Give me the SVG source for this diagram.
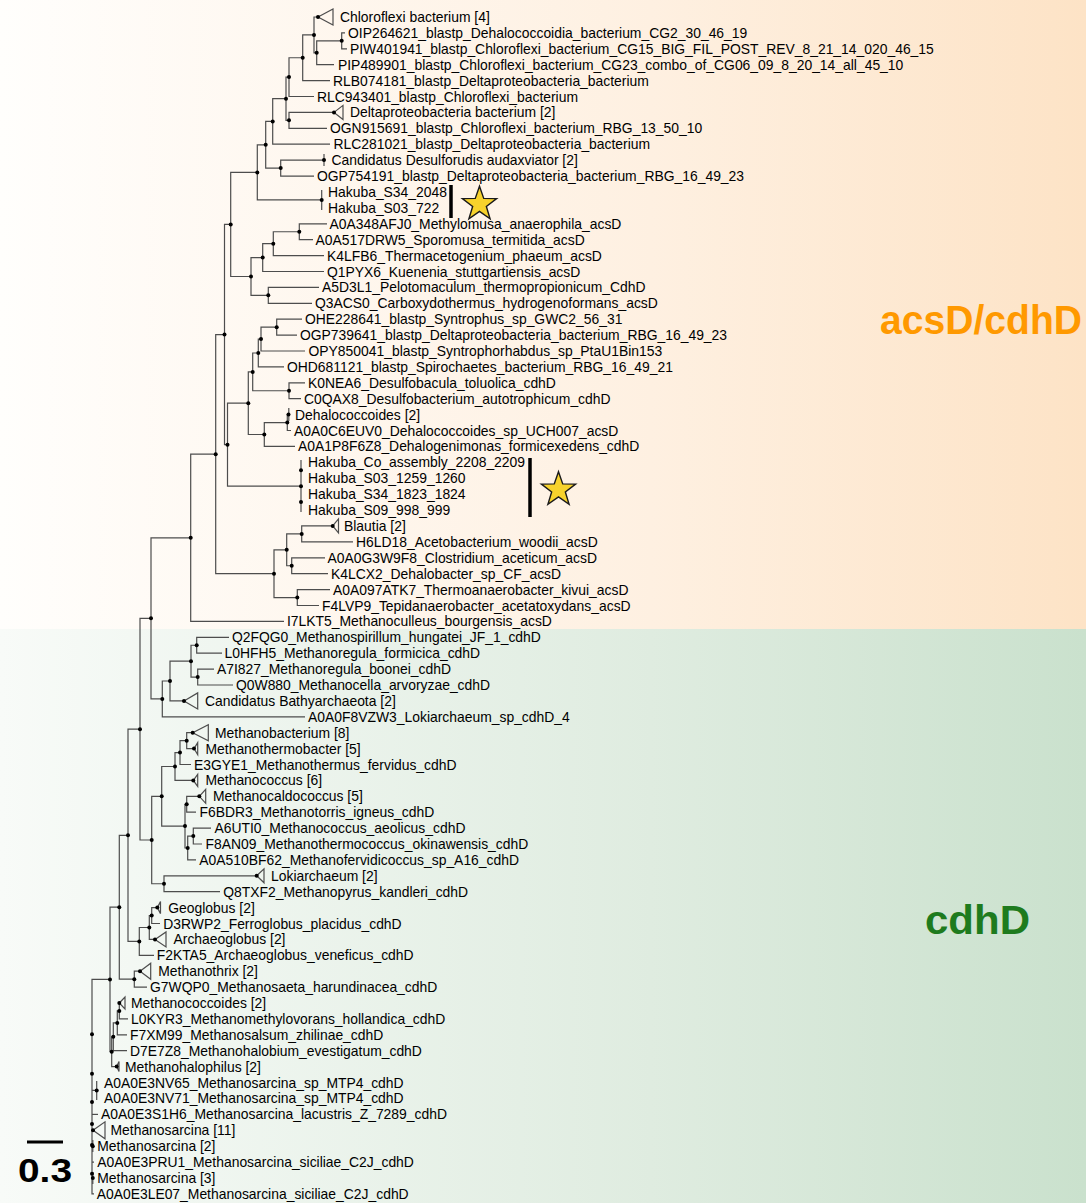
<svg xmlns="http://www.w3.org/2000/svg" width="1086" height="1203" viewBox="0 0 1086 1203">
<defs>
<linearGradient id="gTop" x1="0" y1="0" x2="1" y2="0">
<stop offset="0" stop-color="#FFFEFC"/>
<stop offset="0.6" stop-color="#FEF0E1"/>
<stop offset="1" stop-color="#FDE3C6"/>
</linearGradient>
<linearGradient id="gBot" x1="0" y1="0" x2="1" y2="0">
<stop offset="0" stop-color="#F8FBF8"/>
<stop offset="0.6" stop-color="#DFECE0"/>
<stop offset="1" stop-color="#CAE1CD"/>
</linearGradient>
<polygon id="star" points="0,-18 4.232,-5.825 17.119,-5.562 6.848,2.225 10.58,14.562 0,7.2 -10.58,14.562 -6.848,2.225 -17.119,-5.562 -4.232,-5.825"/>
<style>
.br{fill:none;stroke:#4d4d4d;stroke-width:1.2}
.tri{fill:none;stroke:#4d4d4d;stroke-width:1.2}
.dots circle{fill:#000}
text.l{font-family:"Liberation Sans",Arial,Helvetica,sans-serif;font-size:13.9px;fill:#000}
.star{fill:#F7D22C;stroke:#1a1a1a;stroke-width:1.4}
.bar{stroke:#000;stroke-width:3.5}
</style>
</defs>
<rect x="0" y="0" width="1086" height="629" fill="url(#gTop)"/>
<rect x="0" y="629" width="1086" height="574" fill="url(#gBot)"/>

<g id="connectors">
<path class="br" d="M345 32.9 H341.7 V48.8 H347"/>
<path class="br" d="M341.7 40.85 H316.7 V64.7 H334"/>
<path class="br" d="M318 17 H314 V52.8 H316.7"/>
<path class="br" d="M314 34.9 H302.7 V80.6 H330"/>
<path class="br" d="M302.7 57.75 H289 V96.5 H314"/>
<path class="br" d="M334 112.4 H289 V128.3 H327"/>
<path class="br" d="M289 77.1 H286 V120.35 H289"/>
<path class="br" d="M286 98.7 H272.7 V144.2 H330"/>
<path class="br" d="M324 160.1 H280.7 V176.1 H314"/>
<path class="br" d="M272.7 121.45 H265.7 V168.1 H280.7"/>
<path class="br" d="M321.7 190 V210"/>
<path class="br" d="M265.7 144.8 H257.3 V199.95 H321.7"/>
<path class="br" d="M327 223.8 H299.3 V239.7 H313"/>
<path class="br" d="M299.3 231.75 H273.3 V255.6 H324"/>
<path class="br" d="M273.3 243.7 H262.7 V271.5 H324"/>
<path class="br" d="M319 287.4 H268.3 V303.3 H312"/>
<path class="br" d="M262.7 257.6 H251 V295.35 H268.3"/>
<path class="br" d="M257.3 172.4 H230.7 V276.5 H251"/>
<path class="br" d="M302 319.2 H276.7 V335.1 H297"/>
<path class="br" d="M276.7 327.15 H261 V351 H305"/>
<path class="br" d="M261 339.1 H258.3 V366.9 H284"/>
<path class="br" d="M305 382.8 H289 V398.7 H301"/>
<path class="br" d="M258.3 353 H252.7 V390.75 H289"/>
<path class="br" d="M288.5 414.6 H287.3 V430.5 H291"/>
<path class="br" d="M287.3 422.55 H264.3 V446.4 H295"/>
<path class="br" d="M252.7 371.9 H248.3 V434.5 H264.3"/>
<path class="br" d="M301 460 V512"/>
<path class="br" d="M248.3 403.2 H227.5 V486.15 H301"/>
<path class="br" d="M230.7 224.45 H224.5 V444.7 H227.5"/>
<path class="br" d="M332.7 525.9 H301.7 V541.9 H353"/>
<path class="br" d="M325 557.8 H291.7 V573.7 H328"/>
<path class="br" d="M301.7 533.9 H286.7 V565.75 H291.7"/>
<path class="br" d="M330 589.6 H297.3 V605.5 H319"/>
<path class="br" d="M286.7 549.8 H274 V597.55 H297.3"/>
<path class="br" d="M224.5 334.6 H215.7 V573.7 H274"/>
<path class="br" d="M215.7 454.15 H190.7 V621.4 H284"/>
<path class="br" d="M229 637.3 H196.7 V653.2 H222"/>
<path class="br" d="M214 669.1 H197.7 V685 H233"/>
<path class="br" d="M196.7 645.25 H191 V677.05 H197.7"/>
<path class="br" d="M191 661.15 H170 V700.9 H184"/>
<path class="br" d="M170 681 H162.3 V716.8 H305"/>
<path class="br" d="M190.7 537.8 H151 V698.9 H162.3"/>
<path class="br" d="M192.7 732.7 H186.7 V748.6 H194"/>
<path class="br" d="M186.7 740.65 H180 V764.5 H191"/>
<path class="br" d="M180 752.6 H175 V780.4 H193.3"/>
<path class="br" d="M199.3 796.3 H186.7 V812.2 H196"/>
<path class="br" d="M211 828.1 H193.3 V844 H202"/>
<path class="br" d="M193.3 836.05 H187.7 V859.9 H196"/>
<path class="br" d="M186.7 804.25 H185 V847.98 H187.7"/>
<path class="br" d="M175 766.5 H161.7 V826.1 H185"/>
<path class="br" d="M256.7 875.8 H164 V891.7 H220"/>
<path class="br" d="M161.7 796.3 H151.7 V883.75 H164"/>
<path class="br" d="M151 618.35 H140 V840 H151.7"/>
<path class="br" d="M157.3 907.6 H151.7 V923.5 H160"/>
<path class="br" d="M151.7 915.55 H149.3 V939.4 H155"/>
<path class="br" d="M149.3 927.5 H139.3 V955.3 H154"/>
<path class="br" d="M140 729.2 H128 V941.4 H139.3"/>
<path class="br" d="M140 971.2 H134.3 V987.1 H147"/>
<path class="br" d="M128 835.3 H119.3 V979.15 H134.3"/>
<path class="br" d="M119.3 1003 V1018.9 H128"/>
<path class="br" d="M119.3 1010.95 H117.3 V1034.8 H127"/>
<path class="br" d="M117.3 1022.9 H113.3 V1050.7 H127"/>
<path class="br" d="M113.3 1036.8 H111.7 V1066.6 H116.7"/>
<path class="br" d="M119.3 907.2 H110 V1051.7 H111.7"/>
<path class="br" d="M110 979.45 H92 V1193.9 H94"/>
<path class="br" d="M92 1090.45 H96.7 M96.7 1081 V1100"/>
<path class="br" d="M92 1114.4 H98"/>
<path class="br" d="M92 1162.1 H94"/>
<path class="br" d="M92.8 1140 V1152"/>
<path class="br" d="M92.8 1172 V1184"/>
<path class="br" d="M324 154 V166"/>
<path class="br" d="M288.8 408 V421"/>
</g>

<g id="collapsed">
<polygon class="tri" points="318,17 333,9 333,25"/>
<polygon class="tri" points="334,112.4 343,105.4 343,119.4"/>
<polygon class="tri" points="332.7,525.9 338.5,518.9 338.5,532.9"/>
<polygon class="tri" points="184,700.9 197.7,692.9 197.7,708.9"/>
<polygon class="tri" points="192.7,732.7 208.3,724.7 208.3,740.7"/>
<polygon class="tri" points="194,748.6 197.7,742.6 197.7,754.6"/>
<polygon class="tri" points="193.3,780.4 197.7,774.4 197.7,786.4"/>
<polygon class="tri" points="199.3,796.3 205.7,789.3 205.7,803.3"/>
<polygon class="tri" points="256.7,875.8 264,868.8 264,882.8"/>
<polygon class="tri" points="157.3,907.6 160.5,901.6 160.5,913.6"/>
<polygon class="tri" points="155,939.4 166,931.9 166,946.9"/>
<polygon class="tri" points="140,971.2 150.7,963.2 150.7,979.2"/>
<polygon class="tri" points="119.3,1003 125,997 125,1009"/>
<polygon class="tri" points="116.7,1066.6 119,1061.6 119,1071.6"/>
<polygon class="tri" points="93,1130.3 105,1121.8 105,1138.8"/>
</g>

<g class="dots" id="node-dots">
<circle cx="341.7" cy="40.85" r="2"/><circle cx="316.7" cy="52.8" r="2"/><circle cx="314" cy="34.9" r="2"/>
<circle cx="302.7" cy="57.75" r="2"/><circle cx="289" cy="77.1" r="2"/><circle cx="289" cy="120.35" r="2"/>
<circle cx="286" cy="98.7" r="2"/><circle cx="272.7" cy="121.45" r="2"/><circle cx="280.7" cy="168.1" r="2"/>
<circle cx="265.7" cy="144.8" r="2"/><circle cx="321.7" cy="199.95" r="2"/><circle cx="257.3" cy="172.4" r="2"/>
<circle cx="299.3" cy="231.75" r="2"/><circle cx="273.3" cy="243.7" r="2"/><circle cx="262.7" cy="257.6" r="2"/>
<circle cx="268.3" cy="295.35" r="2"/><circle cx="251" cy="276.5" r="2"/><circle cx="230.7" cy="224.45" r="2"/>
<circle cx="276.7" cy="327.15" r="2"/><circle cx="261" cy="339.1" r="2"/><circle cx="258.3" cy="353" r="2"/>
<circle cx="289" cy="390.75" r="2"/><circle cx="252.7" cy="371.9" r="2"/><circle cx="287.3" cy="422.55" r="2"/>
<circle cx="264.3" cy="434.5" r="2"/><circle cx="248.3" cy="403.2" r="2"/><circle cx="301" cy="486.15" r="2"/>
<circle cx="301" cy="470.25" r="2"/><circle cx="301" cy="502.05" r="2"/><circle cx="227.5" cy="444.7" r="2"/>
<circle cx="224.5" cy="334.6" r="2"/><circle cx="301.7" cy="533.9" r="2"/><circle cx="291.7" cy="565.75" r="2"/>
<circle cx="286.7" cy="549.8" r="2"/><circle cx="297.3" cy="597.55" r="2"/><circle cx="274" cy="573.7" r="2"/>
<circle cx="215.7" cy="454.15" r="2"/><circle cx="190.7" cy="537.8" r="2"/><circle cx="196.7" cy="645.25" r="2"/>
<circle cx="197.7" cy="677.05" r="2"/><circle cx="191" cy="661.15" r="2"/><circle cx="170" cy="681" r="2"/>
<circle cx="162.3" cy="698.9" r="2"/><circle cx="151" cy="618.35" r="2"/><circle cx="186.7" cy="740.65" r="2"/>
<circle cx="180" cy="752.6" r="2"/><circle cx="175" cy="766.5" r="2"/><circle cx="186.7" cy="804.25" r="2"/>
<circle cx="193.3" cy="836.05" r="2"/><circle cx="187.7" cy="847.98" r="2"/><circle cx="185" cy="826.1" r="2"/>
<circle cx="161.7" cy="796.3" r="2"/><circle cx="164" cy="883.75" r="2"/><circle cx="151.7" cy="840" r="2"/>
<circle cx="140" cy="729.2" r="2"/><circle cx="151.7" cy="915.55" r="2"/><circle cx="149.3" cy="927.5" r="2"/>
<circle cx="139.3" cy="941.4" r="2"/><circle cx="128" cy="835.3" r="2"/><circle cx="134.3" cy="979.15" r="2"/>
<circle cx="119.3" cy="907.2" r="2"/><circle cx="119.3" cy="1010.95" r="2"/><circle cx="117.3" cy="1022.9" r="2"/>
<circle cx="113.3" cy="1036.8" r="2"/><circle cx="111.7" cy="1051.7" r="2"/><circle cx="110" cy="979.45" r="2"/>
<circle cx="96.7" cy="1090.45" r="2"/><circle cx="92" cy="1034.3" r="2"/><circle cx="92" cy="1073.8" r="2"/>
<circle cx="92" cy="1102" r="2"/><circle cx="92" cy="1124" r="2"/><circle cx="92" cy="1145" r="2"/>
<circle cx="92" cy="1173.8" r="2"/>
<circle cx="318" cy="17" r="2"/><circle cx="334" cy="112.4" r="2"/><circle cx="332.7" cy="525.9" r="2"/>
<circle cx="184" cy="700.9" r="2"/><circle cx="192.7" cy="732.7" r="2"/><circle cx="194" cy="748.6" r="2"/>
<circle cx="193.3" cy="780.4" r="2"/><circle cx="199.3" cy="796.3" r="2"/><circle cx="256.7" cy="875.8" r="2"/>
<circle cx="157.3" cy="907.6" r="2"/><circle cx="155" cy="939.4" r="2"/><circle cx="140" cy="971.2" r="2"/>
<circle cx="119.3" cy="1003" r="2"/><circle cx="116.7" cy="1066.6" r="2"/><circle cx="93" cy="1130.3" r="2"/>
<circle cx="324" cy="160.1" r="2"/><circle cx="288.5" cy="414.6" r="2"/><circle cx="92.8" cy="1146.2" r="2"/>
<circle cx="92.8" cy="1178" r="2"/>
</g>

<g id="leaf-01"><text class="l" x="340" y="22">Chloroflexi bacterium [4]</text></g>
<g id="leaf-02"><text class="l" x="348" y="37.9">OIP264621_blastp_Dehalococcoidia_bacterium_CG2_30_46_19</text></g>
<g id="leaf-03"><text class="l" x="350" y="53.8">PIW401941_blastp_Chloroflexi_bacterium_CG15_BIG_FIL_POST_REV_8_21_14_020_46_15</text></g>
<g id="leaf-04"><text class="l" x="338" y="69.7">PIP489901_blastp_Chloroflexi_bacterium_CG23_combo_of_CG06_09_8_20_14_all_45_10</text></g>
<g id="leaf-05"><text class="l" x="333" y="85.6">RLB074181_blastp_Deltaproteobacteria_bacterium</text></g>
<g id="leaf-06"><text class="l" x="317" y="101.5">RLC943401_blastp_Chloroflexi_bacterium</text></g>
<g id="leaf-07"><text class="l" x="350" y="117.4">Deltaproteobacteria bacterium [2]</text></g>
<g id="leaf-08"><text class="l" x="330" y="133.3">OGN915691_blastp_Chloroflexi_bacterium_RBG_13_50_10</text></g>
<g id="leaf-09"><text class="l" x="333.5" y="149.2">RLC281021_blastp_Deltaproteobacteria_bacterium</text></g>
<g id="leaf-10"><text class="l" x="331.5" y="165.1">Candidatus Desulforudis audaxviator [2]</text></g>
<g id="leaf-11"><text class="l" x="317" y="181.1">OGP754191_blastp_Deltaproteobacteria_bacterium_RBG_16_49_23</text></g>
<g id="leaf-12"><text class="l" x="328" y="197">Hakuba_S34_2048</text></g>
<g id="leaf-13"><text class="l" x="328" y="212.9">Hakuba_S03_722</text></g>
<g id="leaf-14"><text class="l" x="329.5" y="228.8">A0A348AFJ0_Methylomusa_anaerophila_acsD</text></g>
<g id="leaf-15"><text class="l" x="315.5" y="244.7">A0A517DRW5_Sporomusa_termitida_acsD</text></g>
<g id="leaf-16"><text class="l" x="327" y="260.6">K4LFB6_Thermacetogenium_phaeum_acsD</text></g>
<g id="leaf-17"><text class="l" x="327" y="276.5">Q1PYX6_Kuenenia_stuttgartiensis_acsD</text></g>
<g id="leaf-18"><text class="l" x="322" y="292.4">A5D3L1_Pelotomaculum_thermopropionicum_CdhD</text></g>
<g id="leaf-19"><text class="l" x="315" y="308.3">Q3ACS0_Carboxydothermus_hydrogenoformans_acsD</text></g>
<g id="leaf-20"><text class="l" x="305" y="324.2">OHE228641_blastp_Syntrophus_sp_GWC2_56_31</text></g>
<g id="leaf-21"><text class="l" x="300" y="340.1">OGP739641_blastp_Deltaproteobacteria_bacterium_RBG_16_49_23</text></g>
<g id="leaf-22"><text class="l" x="308.5" y="356">OPY850041_blastp_Syntrophorhabdus_sp_PtaU1Bin153</text></g>
<g id="leaf-23"><text class="l" x="287" y="371.9">OHD681121_blastp_Spirochaetes_bacterium_RBG_16_49_21</text></g>
<g id="leaf-24"><text class="l" x="308" y="387.8">K0NEA6_Desulfobacula_toluolica_cdhD</text></g>
<g id="leaf-25"><text class="l" x="304" y="403.7">C0QAX8_Desulfobacterium_autotrophicum_cdhD</text></g>
<g id="leaf-26"><text class="l" x="295" y="419.6">Dehalococcoides [2]</text></g>
<g id="leaf-27"><text class="l" x="294" y="435.5">A0A0C6EUV0_Dehalococcoides_sp_UCH007_acsD</text></g>
<g id="leaf-28"><text class="l" x="298" y="451.4">A0A1P8F6Z8_Dehalogenimonas_formicexedens_cdhD</text></g>
<g id="leaf-29"><text class="l" x="308" y="467.3">Hakuba_Co_assembly_2208_2209</text></g>
<g id="leaf-30"><text class="l" x="308" y="483.2">Hakuba_S03_1259_1260</text></g>
<g id="leaf-31"><text class="l" x="308" y="499.1">Hakuba_S34_1823_1824</text></g>
<g id="leaf-32"><text class="l" x="308" y="515">Hakuba_S09_998_999</text></g>
<g id="leaf-33"><text class="l" x="344" y="530.9">Blautia [2]</text></g>
<g id="leaf-34"><text class="l" x="356" y="546.9">H6LD18_Acetobacterium_woodii_acsD</text></g>
<g id="leaf-35"><text class="l" x="327.5" y="562.8">A0A0G3W9F8_Clostridium_aceticum_acsD</text></g>
<g id="leaf-36"><text class="l" x="331" y="578.7">K4LCX2_Dehalobacter_sp_CF_acsD</text></g>
<g id="leaf-37"><text class="l" x="333" y="594.6">A0A097ATK7_Thermoanaerobacter_kivui_acsD</text></g>
<g id="leaf-38"><text class="l" x="322" y="610.5">F4LVP9_Tepidanaerobacter_acetatoxydans_acsD</text></g>
<g id="leaf-39"><text class="l" x="287" y="626.4">I7LKT5_Methanoculleus_bourgensis_acsD</text></g>
<g id="leaf-40"><text class="l" x="232" y="642.3">Q2FQG0_Methanospirillum_hungatei_JF_1_cdhD</text></g>
<g id="leaf-41"><text class="l" x="224.5" y="658.2">L0HFH5_Methanoregula_formicica_cdhD</text></g>
<g id="leaf-42"><text class="l" x="217" y="674.1">A7I827_Methanoregula_boonei_cdhD</text></g>
<g id="leaf-43"><text class="l" x="236" y="690">Q0W880_Methanocella_arvoryzae_cdhD</text></g>
<g id="leaf-44"><text class="l" x="205" y="705.9">Candidatus Bathyarchaeota [2]</text></g>
<g id="leaf-45"><text class="l" x="308" y="721.8">A0A0F8VZW3_Lokiarchaeum_sp_cdhD_4</text></g>
<g id="leaf-46"><text class="l" x="215" y="737.7">Methanobacterium [8]</text></g>
<g id="leaf-47"><text class="l" x="205.5" y="753.6">Methanothermobacter [5]</text></g>
<g id="leaf-48"><text class="l" x="194" y="769.5">E3GYE1_Methanothermus_fervidus_cdhD</text></g>
<g id="leaf-49"><text class="l" x="205.5" y="785.4">Methanococcus [6]</text></g>
<g id="leaf-50"><text class="l" x="213" y="801.3">Methanocaldococcus [5]</text></g>
<g id="leaf-51"><text class="l" x="199.5" y="817.2">F6BDR3_Methanotorris_igneus_cdhD</text></g>
<g id="leaf-52"><text class="l" x="214.5" y="833.1">A6UTI0_Methanococcus_aeolicus_cdhD</text></g>
<g id="leaf-53"><text class="l" x="205.5" y="849">F8AN09_Methanothermococcus_okinawensis_cdhD</text></g>
<g id="leaf-54"><text class="l" x="199.3" y="864.9">A0A510BF62_Methanofervidicoccus_sp_A16_cdhD</text></g>
<g id="leaf-55"><text class="l" x="271" y="880.8">Lokiarchaeum [2]</text></g>
<g id="leaf-56"><text class="l" x="223.3" y="896.7">Q8TXF2_Methanopyrus_kandleri_cdhD</text></g>
<g id="leaf-57"><text class="l" x="168.3" y="912.6">Geoglobus [2]</text></g>
<g id="leaf-58"><text class="l" x="163.3" y="928.5">D3RWP2_Ferroglobus_placidus_cdhD</text></g>
<g id="leaf-59"><text class="l" x="173.5" y="944.4">Archaeoglobus [2]</text></g>
<g id="leaf-60"><text class="l" x="156.7" y="960.3">F2KTA5_Archaeoglobus_veneficus_cdhD</text></g>
<g id="leaf-61"><text class="l" x="158.3" y="976.2">Methanothrix [2]</text></g>
<g id="leaf-62"><text class="l" x="150" y="992.1">G7WQP0_Methanosaeta_harundinacea_cdhD</text></g>
<g id="leaf-63"><text class="l" x="131" y="1008">Methanococcoides [2]</text></g>
<g id="leaf-64"><text class="l" x="131" y="1023.9">L0KYR3_Methanomethylovorans_hollandica_cdhD</text></g>
<g id="leaf-65"><text class="l" x="130" y="1039.8">F7XM99_Methanosalsum_zhilinae_cdhD</text></g>
<g id="leaf-66"><text class="l" x="130" y="1055.7">D7E7Z8_Methanohalobium_evestigatum_cdhD</text></g>
<g id="leaf-67"><text class="l" x="125" y="1071.6">Methanohalophilus [2]</text></g>
<g id="leaf-68"><text class="l" x="104" y="1087.5">A0A0E3NV65_Methanosarcina_sp_MTP4_cdhD</text></g>
<g id="leaf-69"><text class="l" x="104" y="1103.4">A0A0E3NV71_Methanosarcina_sp_MTP4_cdhD</text></g>
<g id="leaf-70"><text class="l" x="101" y="1119.4">A0A0E3S1H6_Methanosarcina_lacustris_Z_7289_cdhD</text></g>
<g id="leaf-71"><text class="l" x="110.5" y="1135.3">Methanosarcina [11]</text></g>
<g id="leaf-72"><text class="l" x="97.3" y="1151.2">Methanosarcina [2]</text></g>
<g id="leaf-73"><text class="l" x="97.3" y="1167.1">A0A0E3PRU1_Methanosarcina_siciliae_C2J_cdhD</text></g>
<g id="leaf-74"><text class="l" x="97.3" y="1183">Methanosarcina [3]</text></g>
<g id="leaf-75"><text class="l" x="96.7" y="1198.9">A0A0E3LE07_Methanosarcina_siciliae_C2J_cdhD</text></g>

<g id="highlight-1">
<line class="bar" x1="451" y1="185" x2="451" y2="218"/>
<use href="#star" class="star" transform="translate(479.5,204.2)"/>
</g>
<g id="highlight-2">
<line class="bar" x1="530" y1="458" x2="530" y2="517"/>
<use href="#star" class="star" transform="translate(558.5,489.7)"/>
</g>

<g id="label-acsD">
<text x="880" y="334" font-family="'Liberation Sans',Arial,Helvetica,sans-serif" font-weight="bold" font-size="40" fill="#FF9900" textLength="202" lengthAdjust="spacingAndGlyphs">acsD/cdhD</text>
</g>
<g id="label-cdhD">
<text x="925" y="934" font-family="'Liberation Sans',Arial,Helvetica,sans-serif" font-weight="bold" font-size="40" fill="#1E7B1E" textLength="105" lengthAdjust="spacingAndGlyphs">cdhD</text>
</g>

<g id="scale-bar">
<line x1="27" y1="1142" x2="63" y2="1142" stroke="#000" stroke-width="3"/>
<text x="18" y="1182" font-family="'Liberation Sans',Arial,Helvetica,sans-serif" font-weight="bold" font-size="34" fill="#000" textLength="54" lengthAdjust="spacingAndGlyphs">0.3</text>
</g>
</svg>
